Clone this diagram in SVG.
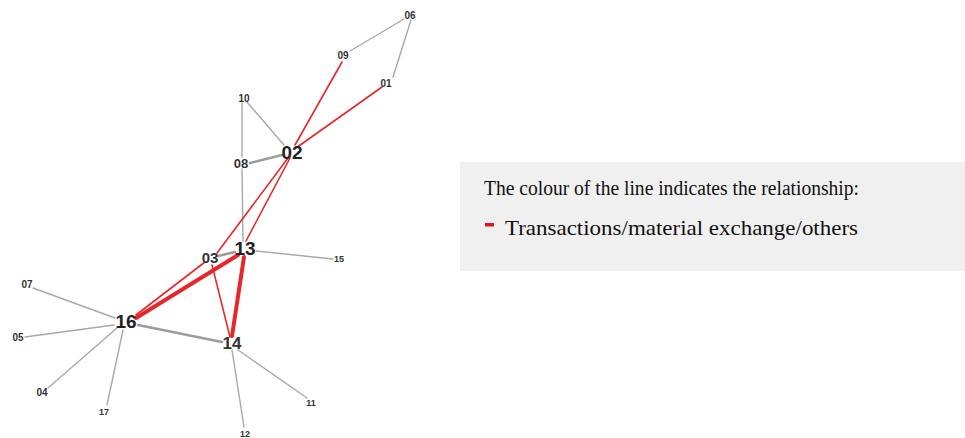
<svg xmlns="http://www.w3.org/2000/svg" width="965" height="438" viewBox="0 0 965 438">
<style>
.g{stroke:#a8a8a8;stroke-width:1.4;fill:none;stroke-linecap:round}
.gt{stroke:#9c9c9c;stroke-width:2.6;fill:none;stroke-linecap:round}
.r{stroke:#e8262a;stroke-width:1.6;fill:none;stroke-linecap:round}
.rt{stroke:#e8262a;stroke-width:4;fill:none;stroke-linecap:round}
.lb{font-family:"Liberation Sans",Arial,sans-serif;font-weight:bold;fill:#333;text-anchor:middle}
.s{font-size:10px}
.m{font-size:13px}
.b{font-size:19px;fill:#222}
.lg{font-family:"Liberation Serif","Times New Roman",serif;font-size:20px;fill:#111}
</style>
<rect width="965" height="438" fill="#fff"/>
<g id="connectors">
<line class="g" x1="404" y1="19" x2="350" y2="51"/>
<line class="g" x1="411" y1="20" x2="393" y2="77"/>
<line class="g" x1="247" y1="102" x2="284" y2="145"/>
<line class="g" x1="242" y1="103" x2="242" y2="157"/>
<line class="gt" x1="250" y1="163" x2="282" y2="155"/>
<line class="g" x1="242" y1="169" x2="243" y2="241" stroke="#a9c4c4"/>
<line class="g" x1="256" y1="251" x2="333" y2="259"/>
<line class="gt" x1="218" y1="256" x2="235" y2="252"/>
<line class="g" x1="115" y1="318" x2="33" y2="288"/>
<line class="g" x1="114" y1="325" x2="25" y2="337"/>
<line class="g" x1="117" y1="328" x2="48" y2="388"/>
<line class="g" x1="123" y1="330" x2="107" y2="405"/>
<line class="gt" x1="138" y1="325" x2="222" y2="342"/>
<line class="g" x1="232" y1="350" x2="244" y2="427"/>
<line class="g" x1="238" y1="350" x2="307" y2="398"/>
<line class="r" x1="295" y1="145" x2="342" y2="62"/>
<line class="r" x1="296" y1="148" x2="382" y2="87"/>
<line class="r" x1="288" y1="158" x2="217" y2="253"/>
<line class="r" x1="205" y1="262" x2="136" y2="315"/>
<line class="r" x1="290" y1="158" x2="246" y2="241"/>
<line class="rt" x1="238" y1="255" x2="136" y2="318"/>
<line class="rt" x1="244" y1="257" x2="232" y2="336"/>
<line class="r" x1="212" y1="265" x2="230" y2="337"/>
</g>
<g id="n06"><text class="lb s" x="410" y="19">06</text></g>
<g id="n09"><text class="lb s" x="343" y="59">09</text></g>
<g id="n01"><text class="lb s" x="386" y="87">01</text></g>
<g id="n10"><text class="lb s" x="244" y="102">10</text></g>
<g id="n02"><text class="lb b" x="292" y="159">02</text></g>
<g id="n08"><text class="lb m" x="241" y="168">08</text></g>
<g id="n03"><text class="lb" style="font-size:15px" x="210" y="263">03</text></g>
<g id="n13"><text class="lb b" x="245" y="255">13</text></g>
<g id="n15"><text class="lb s" x="339" y="262" style="font-size:9px">15</text></g>
<g id="n07"><text class="lb s" x="27" y="288">07</text></g>
<g id="n16"><text class="lb b" x="126" y="328">16</text></g>
<g id="n05"><text class="lb s" x="18" y="341">05</text></g>
<g id="n14"><text class="lb" style="font-size:17px" x="232" y="349">14</text></g>
<g id="n04"><text class="lb s" x="42" y="396">04</text></g>
<g id="n17"><text class="lb s" x="104" y="415" style="font-size:9px">17</text></g>
<g id="n11"><text class="lb s" x="311" y="406" style="font-size:9px">11</text></g>
<g id="n12"><text class="lb s" x="245" y="437" style="font-size:9px">12</text></g>
<g id="legend">
<rect x="460" y="162" width="505" height="109" fill="#f0f0f0"/>
<text class="lg" x="484" y="195" textLength="375" lengthAdjust="spacingAndGlyphs">The colour of the line indicates the relationship:</text>
<rect x="485" y="223" width="9" height="3.5" fill="#e8101a"/>
<text class="lg" x="505" y="235" style="font-size:21px" textLength="353" lengthAdjust="spacingAndGlyphs">Transactions/material exchange/others</text>
</g>
</svg>
